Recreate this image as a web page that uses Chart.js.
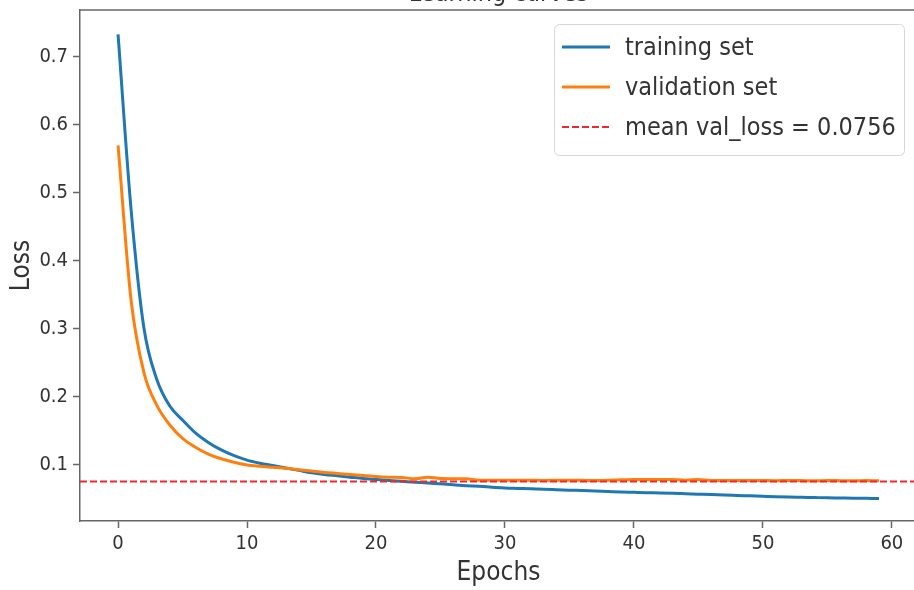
<!DOCTYPE html>
<html>
<head>
<meta charset="utf-8">
<title>Learning curves</title>
<script src="https://cdn.jsdelivr.net/npm/chart.js@4.4.1/dist/chart.umd.min.js"></script>
<style>
    html, body { margin: 0; padding: 0; background: #fff; overflow: hidden; }
    body { width: 914px; height: 590px; position: relative; }
    #wrap { position: absolute; left: 0; top: 0; width: 914px; height: 590px; overflow: hidden; }
    #chart { position: absolute; left: 0; top: -21px; }
</style>
</head>
<body>
<div id="wrap"><canvas id="chart" width="1000" height="610"></canvas></div>
<script>
// ─── DATA ────────────────────────────────────────────────────
const epochs = [
    0, 1, 2, 3, 4, 5, 6, 7, 8, 9,
    10, 11, 12, 13, 14, 15, 16, 17, 18, 19,
    20, 21, 22, 23, 24, 25, 26, 27, 28, 29,
    30, 31, 32, 33, 34, 35, 36, 37, 38, 39,
    40, 41, 42, 43, 44, 45, 46, 47, 48, 49,
    50, 51, 52, 53, 54, 55, 56, 57, 58, 59,
];

const trainLoss = [
    0.733, 0.478, 0.302, 0.226, 0.187, 0.166, 0.147, 0.133, 0.122, 0.1135,
    0.107, 0.1025, 0.099, 0.0955, 0.092, 0.0885, 0.086, 0.084, 0.082, 0.080,
    0.0785, 0.077, 0.0758, 0.0745, 0.0735, 0.0722, 0.0708, 0.0695, 0.0685, 0.0672,
    0.0660, 0.0654, 0.0648, 0.0643, 0.0636, 0.0629, 0.0622, 0.0615, 0.0608, 0.0601,
    0.0596, 0.0591, 0.0587, 0.0582, 0.0576, 0.0570, 0.0564, 0.0557, 0.0551, 0.0545,
    0.0539, 0.0533, 0.0528, 0.0524, 0.0520, 0.0516, 0.0513, 0.0510, 0.0508, 0.0506,
];

const valLoss = [
    0.570, 0.344, 0.236, 0.188, 0.159, 0.139, 0.126, 0.116, 0.109, 0.104,
    0.100, 0.098, 0.0965, 0.095, 0.093, 0.091, 0.089, 0.0875, 0.086, 0.0845,
    0.083, 0.082, 0.0815, 0.0795, 0.082, 0.0800, 0.0798, 0.0795, 0.0775, 0.0774,
    0.0776, 0.0773, 0.0775, 0.0772, 0.0774, 0.0776, 0.0773, 0.0771, 0.0774, 0.0780,
    0.0786, 0.0785, 0.0786, 0.0784, 0.0776, 0.0786, 0.0772, 0.0771, 0.0769, 0.0772,
    0.0770, 0.0768, 0.0771, 0.0769, 0.0767, 0.0770, 0.0768, 0.0766, 0.0769, 0.0768,
];

const meanValLoss = 0.0756;

const xTicks = [0, 10, 20, 30, 40, 50, 60];
const yTicks = [0.1, 0.2, 0.3, 0.4, 0.5, 0.6, 0.7];

// axis limits (matplotlib-style 5% margins)
const X_MIN = -2.95, X_MAX = 61.95;
const Y_MIN = 0.0175, Y_MAX = 0.769;

// ─── STYLE ───────────────────────────────────────────────────
const FONT = "'DejaVu Sans Condensed', 'DejaVu Sans', sans-serif";
const TEXT = '#333';
const SPINE = '#666';

const toPoints = ys => ys.map((y, i) => ({ x: epochs[i], y }));

// top spine + title centred over the axes, like matplotlib
const frame = {
    id: 'frame',
    afterDraw(chart) {
        const { ctx, chartArea: a } = chart;
        ctx.save();
        ctx.strokeStyle = SPINE;
        ctx.lineWidth = 1.5;
        ctx.beginPath();
        ctx.moveTo(a.left, a.top);
        ctx.lineTo(a.right, a.top);
        ctx.stroke();

        ctx.font = `25px ${FONT}`;
        ctx.fillStyle = TEXT;
        ctx.textAlign = 'center';
        ctx.textBaseline = 'middle';
        ctx.fillText('Learning curves', (a.left + a.right) / 2, a.top - 16);
        ctx.restore();
    },
};

// boxed legend in the upper right of the plot area
const legendBox = {
    id: 'legendBox',
    afterDraw(chart) {
        const { ctx, chartArea: a } = chart;
        const w = 350, h = 131;
        const right = a.right - 13;
        const top = a.top + 14;
        const left = right - w;

        ctx.save();
        ctx.beginPath();
        ctx.roundRect(left + 0.5, top + 0.5, w, h, 5);
        ctx.fillStyle = 'rgba(255,255,255,0.85)';
        ctx.fill();
        ctx.strokeStyle = '#d6d6d6';
        ctx.lineWidth = 1;
        ctx.stroke();

        ctx.font = `25px ${FONT}`;
        ctx.textBaseline = 'middle';
        ctx.textAlign = 'left';

        chart.data.datasets.forEach((ds, i) => {
            const y = top + 23 + i * 40;
            ctx.beginPath();
            ctx.strokeStyle = ds.borderColor;
            ctx.lineWidth = ds.borderWidth;
            ctx.setLineDash(ds.borderDash || []);
            ctx.moveTo(left + 8, y);
            ctx.lineTo(left + 56, y);
            ctx.stroke();
            ctx.setLineDash([]);
            ctx.fillStyle = TEXT;
            ctx.fillText(ds.label, left + 71, y + 1);
        });
        ctx.restore();
    },
};

new Chart(document.getElementById('chart'), {
    type: 'line',
    data: {
        datasets: [
            {
                label: 'training set',
                data: toPoints(trainLoss),
                borderColor: '#1f77b4',
                borderWidth: 3,
                pointRadius: 0,
                cubicInterpolationMode: 'monotone',
                order: 3,
            },
            {
                label: 'validation set',
                data: toPoints(valLoss),
                borderColor: '#ff7f0e',
                borderWidth: 3,
                pointRadius: 0,
                cubicInterpolationMode: 'monotone',
                order: 2,
            },
            {
                label: 'mean val_loss = 0.0756',
                data: [{ x: X_MIN, y: meanValLoss }, { x: X_MAX, y: meanValLoss }],
                borderColor: '#f0282d',
                borderWidth: 2.2,
                borderDash: [7, 3],
                pointRadius: 0,
                order: 1,
            },
        ],
    },
    options: {
        responsive: false,
        animation: false,
        devicePixelRatio: 1,
        // plot area runs from x=80 to x=917, just past the window edge
        layout: { padding: { top: 31, right: 83, bottom: 0, left: 0 } },
        plugins: {
            legend: { display: false },
            tooltip: { enabled: false },
        },
        scales: {
            x: {
                type: 'linear',
                min: X_MIN,
                max: X_MAX,
                afterBuildTicks: s => { s.ticks = xTicks.map(v => ({ value: v })); },
                afterFit: s => { s.height = 68; },
                ticks: {
                    color: TEXT,
                    font: { family: FONT, size: 20 },
                    padding: 4,
                    maxRotation: 0,
                    callback: v => String(v),
                },
                grid: {
                    drawOnChartArea: false,
                    drawTicks: true,
                    tickLength: 7,
                    tickColor: SPINE,
                    tickWidth: 1.5,
                },
                border: { display: true, color: SPINE, width: 1.5 },
                title: {
                    display: true,
                    text: 'Epochs',
                    color: TEXT,
                    font: { family: FONT, size: 26 },
                    padding: { top: 0, bottom: 0 },
                },
            },
            y: {
                type: 'linear',
                min: Y_MIN,
                max: Y_MAX,
                afterBuildTicks: s => { s.ticks = yTicks.map(v => ({ value: v })); },
                afterFit: s => { s.width = 80; },
                ticks: {
                    color: TEXT,
                    font: { family: FONT, size: 20 },
                    padding: 5,
                    callback: v => v.toFixed(1),
                },
                grid: {
                    drawOnChartArea: false,
                    drawTicks: true,
                    tickLength: 7,
                    tickColor: SPINE,
                    tickWidth: 1.5,
                },
                border: { display: true, color: SPINE, width: 1.5 },
                title: {
                    display: true,
                    text: 'Loss',
                    color: TEXT,
                    font: { family: FONT, size: 26 },
                    padding: { top: 7, bottom: 0 },
                },
            },
        },
    },
    plugins: [frame, legendBox],
});
</script>
</body>
</html>
